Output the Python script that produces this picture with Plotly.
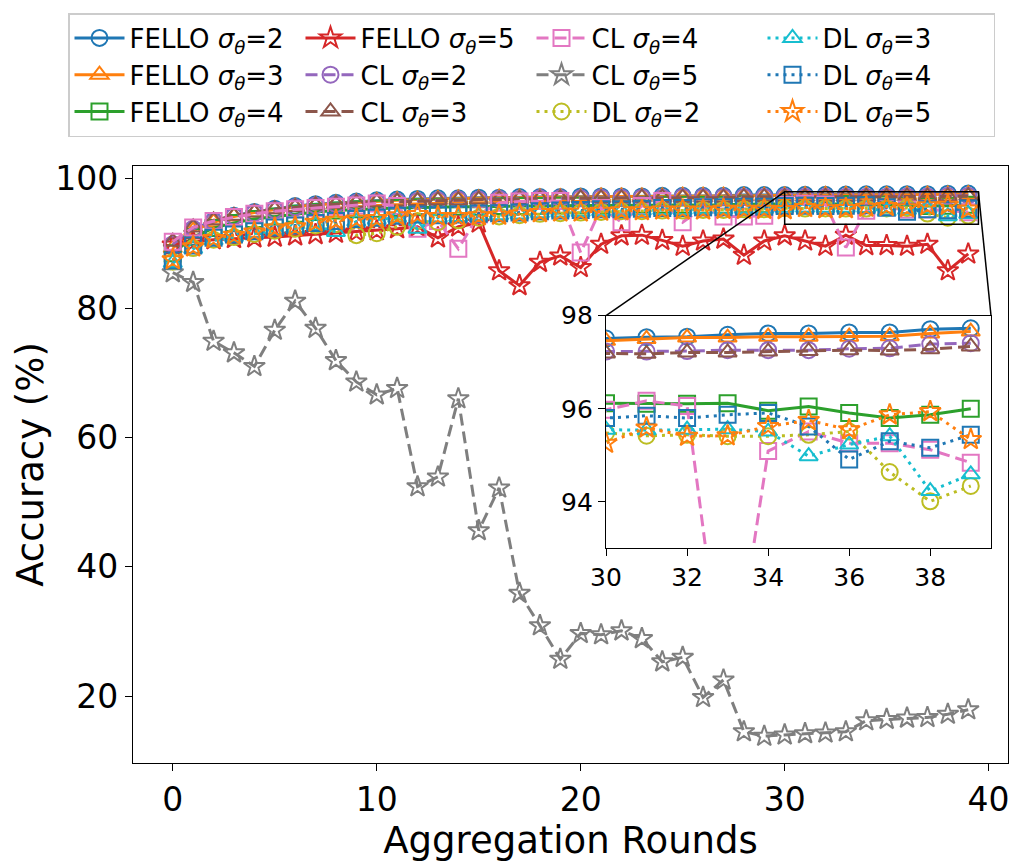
import plotly.graph_objects as go

# ---------------- data ----------------
rounds = list(range(40))

fello_2 = [89.6, 92.2, 93.5, 94.3, 94.9, 95.4, 95.8, 96.1, 96.3, 96.5,
           96.7, 96.8, 96.9, 97.0, 97.0, 97.1, 97.1, 97.2, 97.2, 97.2,
           97.3, 97.3, 97.3, 97.3, 97.4, 97.4, 97.4, 97.4, 97.5, 97.5,
           97.51, 97.54, 97.55, 97.59, 97.62, 97.62, 97.64, 97.64, 97.71, 97.73]
fello_3 = [89.3, 92.0, 93.3, 94.2, 94.8, 95.3, 95.7, 96.0, 96.2, 96.4,
           96.6, 96.7, 96.8, 96.9, 97.0, 97.0, 97.1, 97.1, 97.2, 97.2,
           97.2, 97.3, 97.3, 97.3, 97.3, 97.4, 97.4, 97.4, 97.4, 97.4,
           97.46, 97.50, 97.53, 97.53, 97.55, 97.55, 97.55, 97.56, 97.62, 97.66]
fello_4 = [88.5, 91.0, 92.4, 93.2, 93.8, 94.2, 94.6, 94.9, 95.1, 95.3,
           95.4, 95.5, 95.6, 95.6, 95.7, 95.7, 95.8, 95.8, 95.8, 95.9,
           95.9, 95.9, 95.9, 96.0, 96.0, 96.0, 96.0, 96.0, 96.1, 96.1,
           96.12, 96.11, 96.11, 96.12, 95.96, 96.05, 95.91, 95.80, 95.87, 96.00]
fello_5 = [89.8, 90.3, 90.6, 90.8, 90.9, 91.0, 91.2, 91.4, 91.6, 91.8,
           92.0, 92.3, 92.6, 90.9, 92.6, 93.2, 85.8, 83.5, 87.1, 88.1,
           86.3, 89.9, 91.2, 91.3, 90.5, 89.6, 90.4, 90.7, 88.2, 90.4,
           91.2, 90.4, 89.6, 91.3, 89.7, 89.7, 89.6, 89.9, 85.8, 88.4]
cl_2 = [89.9, 92.3, 93.4, 94.2, 94.7, 95.2, 95.6, 95.9, 96.1, 96.3,
        96.4, 96.5, 96.6, 96.7, 96.8, 96.8, 96.9, 96.9, 97.0, 97.0,
        97.0, 97.1, 97.1, 97.1, 97.1, 97.2, 97.2, 97.2, 97.2, 97.2,
        97.23, 97.23, 97.24, 97.26, 97.26, 97.26, 97.29, 97.30, 97.39, 97.41]
cl_3 = [90.3, 92.5, 93.6, 94.3, 94.8, 95.3, 95.6, 95.9, 96.1, 96.3,
        96.4, 96.5, 96.6, 96.7, 96.7, 96.8, 96.8, 96.9, 96.9, 97.0,
        97.0, 97.0, 97.0, 97.1, 97.1, 97.1, 97.1, 97.1, 97.2, 97.2,
        97.19, 97.18, 97.21, 97.21, 97.23, 97.24, 97.26, 97.25, 97.28, 97.34]
cl_4 = [90.3, 92.5, 93.5, 94.1, 94.6, 95.0, 95.3, 95.5, 95.7, 95.9,
        96.2, 95.8, 92.3, 93.5, 89.2, 94.5, 96.3, 96.5, 96.6, 96.6,
        88.6, 95.5, 93.3, 95.8, 96.6, 93.3, 95.6, 94.2, 94.2, 94.3,
        95.98, 96.17, 96.06, 89.4, 95.09, 95.51, 95.26, 95.26, 95.12, 94.84]
cl_5 = [85.5, 84.0, 74.9, 73.1, 71.0, 76.6, 81.1, 76.9, 71.9, 68.6,
        66.6, 67.6, 52.4, 53.9, 66.0, 45.6, 52.2, 35.9, 30.9, 25.7,
        29.7, 29.5, 30.1, 28.9, 25.3, 26.0, 19.8, 22.5, 14.5, 13.8,
        14.0, 14.2, 14.3, 14.5, 16.2, 16.4, 16.6, 16.7, 17.2, 17.9]
dl_2 = [87.2, 89.3, 90.6, 91.0, 91.5, 92.0, 92.3, 92.8, 93.0, 91.3,
        91.6, 92.6, 93.5, 93.3, 93.6, 94.0, 94.2, 94.4, 94.6, 94.7,
        94.8, 94.9, 95.0, 95.0, 95.1, 95.1, 95.2, 95.2, 95.3, 95.3,
        95.48, 95.42, 95.44, 95.41, 95.41, 95.44, 95.51, 94.64, 94.01, 94.34]
dl_3 = [87.0, 89.2, 90.5, 91.0, 91.6, 92.1, 92.4, 92.8, 91.8, 93.4,
        93.7, 94.0, 92.3, 94.0, 94.1, 94.3, 94.4, 94.5, 94.7, 94.8,
        94.9, 95.0, 95.0, 95.1, 95.2, 95.2, 95.3, 95.3, 95.4, 95.4,
        95.55, 95.54, 95.55, 95.56, 95.51, 94.98, 95.23, 95.41, 94.23, 94.59]
dl_4 = [87.4, 89.7, 90.9, 91.4, 91.9, 92.5, 92.8, 93.2, 93.5, 93.8,
        94.0, 94.3, 94.5, 94.4, 94.5, 94.6, 94.7, 94.8, 95.0, 95.1,
        95.2, 95.3, 95.3, 95.4, 95.5, 95.5, 95.6, 95.6, 95.7, 95.7,
        95.80, 95.85, 95.80, 95.87, 95.91, 95.62, 94.91, 95.30, 95.16, 95.44]
dl_5 = [87.5, 89.5, 90.8, 91.3, 91.8, 92.4, 92.6, 93.3, 93.6, 93.8,
        93.9, 94.3, 94.5, 94.2, 94.2, 94.3, 94.4, 94.6, 94.8, 94.9,
        94.9, 95.0, 95.1, 95.1, 95.2, 95.2, 95.2, 95.3, 95.3, 95.3,
        95.26, 95.59, 95.41, 95.42, 95.62, 95.75, 95.55, 95.87, 95.94, 95.34]

x_ticks = [0, 10, 20, 30, 40]
y_ticks = [20, 40, 60, 80, 100]
inset_x_ticks = [30, 32, 34, 36, 38]
inset_y_ticks = [94, 96, 98]
x_title = "Aggregation Rounds"
y_title = "Accuracy (%)"

# (label, values, color, symbol, dash, legend rank)
series = [
    ("FELLO <i>σ<sub>θ</sub></i>=2", fello_2, "#1f77b4", "circle-open", "solid", 1),
    ("FELLO <i>σ<sub>θ</sub></i>=3", fello_3, "#ff7f0e", "triangle-up-open", "solid", 5),
    ("FELLO <i>σ<sub>θ</sub></i>=4", fello_4, "#2ca02c", "square-open", "solid", 9),
    ("FELLO <i>σ<sub>θ</sub></i>=5", fello_5, "#d62728", "star-open", "solid", 2),
    ("CL <i>σ<sub>θ</sub></i>=2", cl_2, "#9467bd", "circle-open", "dash", 6),
    ("CL <i>σ<sub>θ</sub></i>=3", cl_3, "#8c564b", "triangle-up-open", "dash", 10),
    ("CL <i>σ<sub>θ</sub></i>=4", cl_4, "#e377c2", "square-open", "dash", 3),
    ("CL <i>σ<sub>θ</sub></i>=5", cl_5, "#7f7f7f", "star-open", "dash", 7),
    ("DL <i>σ<sub>θ</sub></i>=2", dl_2, "#bcbd22", "circle-open", "dot", 11),
    ("DL <i>σ<sub>θ</sub></i>=3", dl_3, "#17becf", "triangle-up-open", "dot", 4),
    ("DL <i>σ<sub>θ</sub></i>=4", dl_4, "#1f77b4", "square-open", "dot", 8),
    ("DL <i>σ<sub>θ</sub></i>=5", dl_5, "#ff7f0e", "star-open", "dot", 12),
]

dash_map = {"solid": "solid", "dash": "12px,6px", "dot": "3px,5px"}

FONT = "DejaVu Sans, Liberation Sans, sans-serif"

fig = go.Figure()

for label, vals, color, sym, dash, rank in series:
    common = dict(
        mode="lines+markers",
        line=dict(color=color, width=3, dash=dash_map[dash]),
        marker=dict(symbol=sym, size=16, color=color, line=dict(width=2, color=color)),
    )
    fig.add_trace(go.Scatter(x=rounds, y=vals, name=label, legendrank=rank,
                             xaxis="x", yaxis="y", **common))
    fig.add_trace(go.Scatter(x=rounds, y=vals, name=label, showlegend=False,
                             xaxis="x2", yaxis="y2", **common))

# geometry (page body adds an 8px offset, so the figure is 8px smaller)
W, H = 1016, 858
ML, MR, MT, MB = 125, 16, 158, 103
PW, PH = W - ML - MR, H - MT - MB
x_range = [-1.95, 40.95]
y_range = [9.65, 102.0]
inset_xr = [30, 39.5]
inset_yr = [93, 98]
inset_dom_x = [0.5406, 0.9806]
inset_dom_y = [0.3596, 0.7492]

axis_common = dict(showgrid=False, zeroline=False, showline=True, linecolor="black",
                   linewidth=1.3, mirror=True, ticks="outside", ticklen=7,
                   tickwidth=1.3, tickcolor="black", automargin=False)

fig.update_layout(
    width=W, height=H,
    margin=dict(l=ML, r=MR, t=MT, b=MB, autoexpand=False),
    paper_bgcolor="white", plot_bgcolor="white",
    font=dict(family=FONT, color="black"),
    xaxis=dict(range=x_range, tickvals=x_ticks, tickfont=dict(size=33),
               title=dict(text=x_title, font=dict(size=37), standoff=4),
               domain=[0, 1], **axis_common),
    yaxis=dict(range=y_range, tickvals=y_ticks, tickfont=dict(size=33),
               title=dict(text=y_title, font=dict(size=37), standoff=0),
               domain=[0, 1], **axis_common),
    xaxis2=dict(range=inset_xr, tickvals=inset_x_ticks, tickfont=dict(size=25),
                domain=inset_dom_x, anchor="y2", **axis_common),
    yaxis2=dict(range=inset_yr, tickvals=inset_y_ticks, tickfont=dict(size=25),
                domain=inset_dom_y, anchor="x2", **axis_common),
    legend=dict(orientation="h",
                x=(60 - ML) / PW, y=(H - MB - 5) / PH, xanchor="left", yanchor="top",
                font=dict(size=26, family=FONT), bgcolor="white",
                bordercolor="#cccccc", borderwidth=1.5,
                entrywidth=166, itemwidth=50, traceorder="normal"),
    showlegend=True,
)

# zoom-region rectangle on the main axes
fig.add_shape(type="rect", xref="x", yref="y", x0=inset_xr[0], x1=inset_xr[1],
              y0=inset_yr[0], y1=inset_yr[1], line=dict(color="black", width=1.5),
              layer="above")

def to_paper_x(v):
    return (v - x_range[0]) / (x_range[1] - x_range[0])

def to_paper_y(v):
    return (v - y_range[0]) / (y_range[1] - y_range[0])

# connector lines (upper-left and upper-right corners)
fig.add_shape(type="line", xref="paper", yref="paper",
              x0=to_paper_x(inset_xr[0]), y0=to_paper_y(inset_yr[1]),
              x1=inset_dom_x[0], y1=inset_dom_y[1],
              line=dict(color="black", width=1.5))
fig.add_shape(type="line", xref="paper", yref="paper",
              x0=to_paper_x(inset_xr[1]), y0=to_paper_y(inset_yr[1]),
              x1=inset_dom_x[1], y1=inset_dom_y[1],
              line=dict(color="black", width=1.5))

fig.write_html("out.html")
